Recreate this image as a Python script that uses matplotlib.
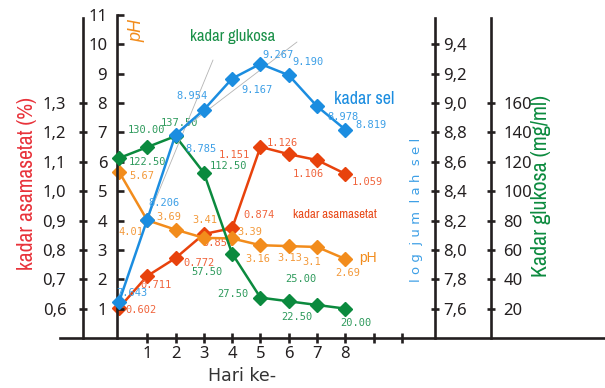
import os
import matplotlib
matplotlib.use('Agg')
import matplotlib.pyplot as plt
from matplotlib import font_manager
from matplotlib.font_manager import FontProperties

# data (day 0..8)
days = [0, 1, 2, 3, 4, 5, 6, 7, 8]
log_sel = [7.643, 8.206, 8.785, 8.954, 9.167, 9.267, 9.190, 8.978, 8.819]
asam_asetat = [0.602, 0.711, 0.772, 0.854, 0.874, 1.151, 1.126, 1.106, 1.059]
ph = [5.67, 4.01, 3.69, 3.41, 3.39, 3.16, 3.13, 3.1, 2.69]
glukosa = [122.5, 130.0, 137.5, 112.5, 57.5, 27.5, 25.0, 22.5, 20.0]

x_ticks = [1, 2, 3, 4, 5, 6, 7, 8, 9, 10]
x_labels = ['1', '2', '3', '4', '5', '6', '7', '8', '', '']
ph_ticks = [1, 2, 3, 4, 5, 6, 7, 8, 9, 10, 11]
asam_ticks = [0.6, 0.7, 0.8, 0.9, 1.0, 1.1, 1.2, 1.3]
log_ticks = [7.6, 7.8, 8.0, 8.2, 8.4, 8.6, 8.8, 9.0, 9.2, 9.4]
gluk_ticks = [20, 40, 60, 80, 100, 120, 140, 160]

# where each value label sits relative to its marker (pixels, right / up)
sel_off = [(13, 9), (17, 17), (25, -14), (-12, 14), (25, -11), (18, 9), (19, 13), (26, -11), (26, 5)]
asam_off = [(22, -2), (9, -9), (23, -5), (14, -9), (27, 13), (-26, -8), (-6, 11), (-9, -14), (22, -8)]
ph_off = [(23, -4), (-16, -12), (-7, 13), (1, 18), (18, 6), (-3, -14), (1, -12), (-5, -15), (2, -14)]
gluk_off = [(29, -4), (-1, 17), (4, 13), (25, 7), (-25, -18), (-28, 4), (12, 22), (-20, -12), (10, -14)]

dark = '#231f20'
blue, blue_lbl = '#1b8de0', '#3d9fe6'
red, red_lbl = '#e8420c', '#f0643c'
orange, orange_lbl = '#f28c1c', '#f39a3c'
green, green_lbl = '#0b8a3e', '#2e9a5c'

plt.rcParams['font.family'] = ['Noto Sans', 'DejaVu Sans']
mono = 'DejaVu Sans Mono'


def pick_narrow():
    # look for any narrow / condensed regular face that happens to be installed
    found = []
    for f in font_manager.fontManager.ttflist:
        tag = (f.name + ' ' + os.path.basename(f.fname)).lower()
        cond = 'narrow' in tag or 'condensed' in tag or 'condensed' in str(f.stretch)
        if not cond or f.style != 'normal' or 'bold' in tag or 'light' in tag:
            continue
        if f.weight not in (400, 'normal', 'regular', 'book'):
            continue
        rank = 0 if 'narrow' in tag else (2 if any(k in tag for k in ('semi', 'extra', 'ultra')) else 1)
        found.append((rank, f.fname))
    if found:
        return FontProperties(fname=sorted(found)[0][1])
    return FontProperties(family='Roboto')


narrow = pick_narrow()


def px(x, y):
    return x / 605, 1 - y / 388


fig = plt.figure(figsize=(6.05, 3.88), dpi=100)
ax = fig.add_axes([60 / 605, 50 / 388, 545 / 605, 323 / 388])
ax.patch.set_visible(False)
ax.set_xlim(-2.08, 17.17)
ax.set_ylim(0, 11)

ax_asam = ax.twinx()
ax_log = ax.twinx()
ax_gluk = ax.twinx()
ax_asam.set_zorder(-1)
ax_gluk.set_zorder(1)
ax_log.set_zorder(2)
ax_asam.set_ylim(0.5, 1.6)
ax_log.set_ylim(7.4, 9.6)
ax_gluk.set_ylim(0, 220)

for a in (ax, ax_asam, ax_log, ax_gluk):
    for s in a.spines.values():
        s.set_visible(False)
        s.set_color(dark)
        s.set_linewidth(1.9)

ax.spines['bottom'].set_visible(True)
ax.spines['left'].set_visible(True)
ax.spines['left'].set_position(('data', -0.07))
ax.spines['left'].set_bounds(0, 11)

ax_asam.spines['left'].set_visible(True)
ax_asam.spines['left'].set_position(('data', -1.27))
ax_asam.spines['left'].set_bounds(0.5, 1.59)
ax_asam.yaxis.tick_left()

ax_log.spines['right'].set_visible(True)
ax_log.spines['right'].set_position(('data', 11.17))
ax_log.spines['right'].set_bounds(7.4, 9.58)

ax_gluk.spines['right'].set_visible(True)
ax_gluk.spines['right'].set_position(('data', 13.14))
ax_gluk.spines['right'].set_bounds(0, 218)

ax.set_xticks(x_ticks)
ax.set_xticklabels(x_labels)
ax.set_yticks(ph_ticks)
ax_asam.set_yticks(asam_ticks)
ax_asam.set_yticklabels([f'{v:.1f}'.replace('.', ',') for v in asam_ticks])
ax_log.set_yticks(log_ticks)
ax_log.set_yticklabels([f'{v:.1f}'.replace('.', ',') for v in log_ticks])
ax_gluk.set_yticks(gluk_ticks)

ax.tick_params(axis='x', direction='inout', length=7, width=1.9, color=dark,
               labelcolor=dark, labelsize=12, pad=2)
ax.tick_params(axis='y', direction='in', length=5, width=1.9, color=dark,
               labelcolor=dark, labelsize=12, pad=7)
ax_asam.tick_params(axis='y', direction='inout', length=6, width=1.9, color=dark,
                    labelcolor=dark, labelsize=12, pad=9)
ax_log.tick_params(axis='y', direction='inout', length=6, width=1.9, color=dark,
                   labelcolor=dark, labelsize=12, pad=2.5)
ax_gluk.tick_params(axis='y', direction='inout', length=6, width=1.9, color=dark,
                    labelcolor=dark, labelsize=12, pad=6)

# series
style = dict(lw=1.8, marker='D', ms=7.5, clip_on=False)
ax_asam.plot(days, asam_asetat, color=red, **style)
ax.plot(days, ph, color=orange, **style)
ax_gluk.plot(days, glukosa, color=green, **style)
ax_log.plot(days, log_sel, color=blue, **style)

# value labels
label_sets = [
    (ax_asam, asam_asetat, asam_off, red_lbl, lambda v: f'{v:.3f}'),
    (ax, ph, ph_off, orange_lbl, lambda v: str(v)),
    (ax_gluk, glukosa, gluk_off, green_lbl, lambda v: f'{v:.2f}'),
    (ax_log, log_sel, sel_off, blue_lbl, lambda v: f'{v:.3f}'),
]
for a, vals, offs, col, fmt in label_sets:
    for d, v, (dx, dy) in zip(days, vals, offs):
        a.annotate(fmt(v), (d, v), xytext=(dx * 0.72, dy * 0.72), textcoords='offset points',
                   ha='center', va='center', fontsize=7.5, family=mono, color=col,
                   annotation_clip=False)

# thin grey leader lines
for i, end in ((1, (213, 60)), (2, (297, 42))):
    ax_log.annotate('', (days[i], log_sel[i]), xytext=px(*end), textcoords='figure fraction',
                    arrowprops=dict(arrowstyle='-', color='#b4b4b4', lw=0.6, shrinkA=0, shrinkB=0),
                    zorder=1)

# axis titles and series names; the condensed ones are sized to the length they have
fitted = []


def squeezed(x, y, s, length, color, rot=0):
    t = fig.text(*px(x, y), s, rotation=rot, ha='center', va='center',
                 fontproperties=narrow.copy(), fontsize=14, color=color)
    fitted.append((t, length, rot))


squeezed(27, 183, 'kadar asamasetat (%)', 173, '#e8323a', 90)
squeezed(541, 186, 'Kadar glukosa (mg/ml)', 182, green, 90)
squeezed(233, 37, 'kadar glukosa', 85, '#1a9048')
squeezed(364, 99, 'kadar sel', 60, blue)
squeezed(335, 214, 'kadar asamasetat', 84, '#e84a1a')

fig.text(*px(137, 30), 'pH', rotation=90, ha='center', va='center', fontsize=13,
         style='italic', family='Liberation Sans', color=orange)
fig.text(*px(417, 210), 'l o g  j u m  l a h  s e l', rotation=90, ha='center', va='center',
         fontsize=9.5, family='DejaVu Sans', color=blue_lbl)
fig.text(*px(242, 376), 'Hari ke-', ha='center', va='center', fontsize=12.5,
         family='DejaVu Sans', color='#333333')
fig.text(*px(368, 258), 'pH', ha='center', va='center', fontsize=10,
         family='Liberation Sans', color=orange)

renderer = fig.canvas.get_renderer()
for t, length, rot in fitted:
    bb = t.get_window_extent(renderer)
    cur = bb.height if rot else bb.width
    t.set_fontsize(t.get_fontsize() * length / cur)

fig.savefig('out.png', dpi=100, facecolor='white')
